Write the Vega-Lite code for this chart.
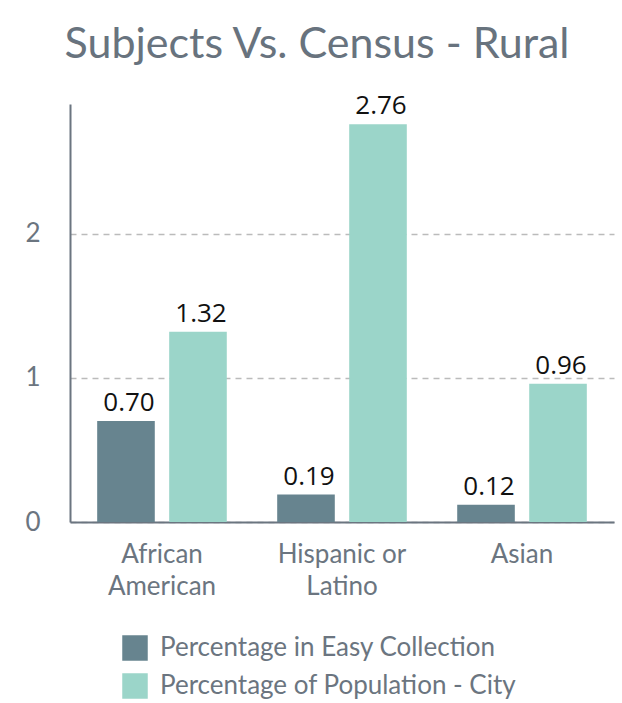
{
  "$schema": "https://vega.github.io/schema/vega-lite/v6.json",
  "width": 544,
  "height": 418,
  "autosize": "none",
  "padding": {"left": 70, "top": 104, "right": 8, "bottom": 181},
  "background": "white",
  "title": {
    "text": "Subjects Vs. Census - Rural",
    "font": "Lato",
    "fontSize": 43,
    "fontWeight": "normal",
    "color": "#68737e",
    "anchor": "middle",
    "frame": "group",
    "dx": -25,
    "offset": 26
  },
  "data": {
    "values": [
      {"group": "African American", "series": "Percentage in Easy Collection", "value": 0.70},
      {"group": "African American", "series": "Percentage of Population - City", "value": 1.32},
      {"group": "Hispanic or Latino", "series": "Percentage in Easy Collection", "value": 0.19},
      {"group": "Hispanic or Latino", "series": "Percentage of Population - City", "value": 2.76},
      {"group": "Asian", "series": "Percentage in Easy Collection", "value": 0.12},
      {"group": "Asian", "series": "Percentage of Population - City", "value": 0.96}
    ]
  },
  "encoding": {
    "x": {
      "field": "group",
      "type": "nominal",
      "sort": ["African American", "Hispanic or Latino", "Asian"],
      "scale": {"paddingInner": 0, "paddingOuter": 0.011},
      "axis": {
        "title": null,
        "labelAngle": 0,
        "ticks": false,
        "domainColor": "#6b7580",
        "domainWidth": 2,
        "labelFont": "Lato",
        "labelFontSize": 26,
        "labelColor": "#6b7580",
        "labelPadding": 19,
        "labelLineHeight": 32,
        "labelBaseline": "top",
        "labelExpr": "datum.label == 'African American' ? ['African', 'American'] : datum.label == 'Hispanic or Latino' ? ['Hispanic or', 'Latino'] : datum.label"
      }
    },
    "xOffset": {
      "field": "series",
      "type": "nominal",
      "scale": {"paddingInner": 0.2, "paddingOuter": 0.35}
    },
    "y": {
      "field": "value",
      "type": "quantitative",
      "scale": {"domain": [0, 2.9], "nice": false},
      "axis": {
        "title": null,
        "values": [0, 1, 2],
        "ticks": false,
        "domainColor": "#6b7580",
        "domainWidth": 2,
        "grid": true,
        "gridColor": "#bbbbbb",
        "gridDash": [6, 5],
        "gridWidth": 1.5,
        "labelFont": "Lato",
        "labelFontSize": 26,
        "labelColor": "#6b7580",
        "labelPadding": 30
      }
    }
  },
  "layer": [
    {
      "mark": {"type": "bar"},
      "encoding": {
        "color": {
          "field": "series",
          "type": "nominal",
          "scale": {"range": ["#67848f", "#9bd5c9"]},
          "legend": {
            "title": null,
            "orient": "none",
            "legendX": 52,
            "legendY": 531,
            "direction": "vertical",
            "symbolType": "square",
            "symbolSize": 650,
            "symbolStrokeWidth": 0,
            "labelFont": "Lato",
            "labelFontSize": 26,
            "labelColor": "#6b7580",
            "labelOffset": 12,
            "rowPadding": 12,
            "labelLimit": 500
          }
        }
      }
    },
    {
      "mark": {"type": "text", "baseline": "bottom", "dy": -5, "dx": 3, "font": "Open Sans", "fontSize": 26, "color": "#111111"},
      "encoding": {
        "text": {"field": "value", "type": "quantitative", "format": ".2f"}
      }
    }
  ],
  "config": {"view": {"stroke": null}}
}
